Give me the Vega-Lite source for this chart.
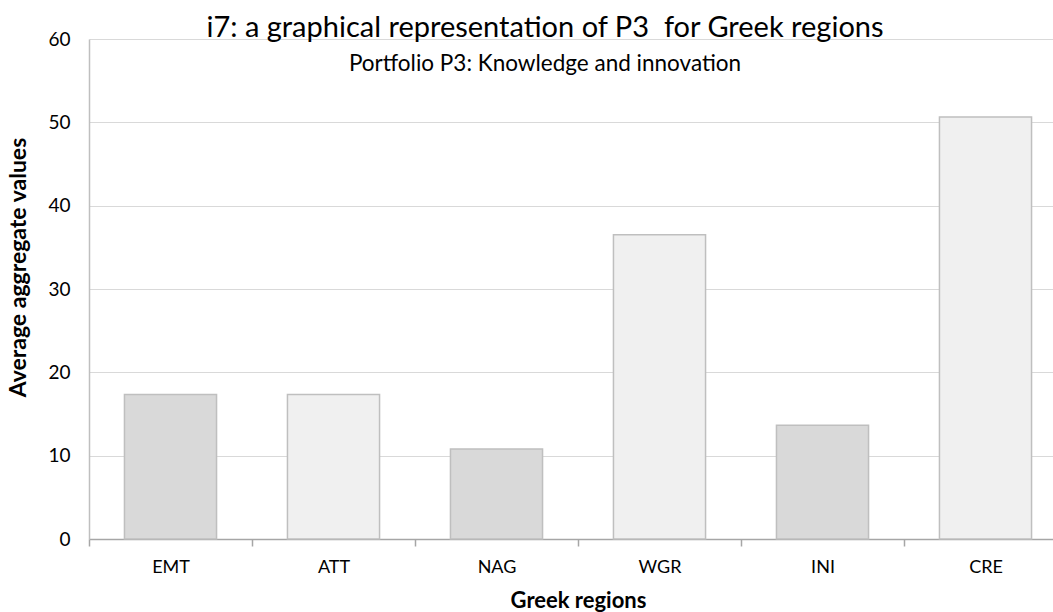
{
  "$schema": "https://vega.github.io/schema/vega-lite/v6.json",
  "autosize": {"type": "none"},
  "padding": {"left": 89, "top": 39, "right": 0, "bottom": 73},
  "width": 964,
  "height": 500,
  "background": "white",
  "config": {
    "font": "Lato",
    "view": {"stroke": null},
    "axis": {"labelFont": "Lato", "titleFont": "Lato", "labelColor": "#000000", "titleColor": "#000000"}
  },
  "title": {
    "text": "i7: a graphical representation of P3\u00a0 for Greek regions",
    "subtitle": "Portfolio P3: Knowledge and innovation",
    "anchor": "middle",
    "frame": "group",
    "fontSize": 29,
    "fontWeight": "normal",
    "font": "Lato",
    "color": "#000000",
    "subtitleFont": "Lato",
    "subtitleFontSize": 22.5,
    "subtitleColor": "#000000",
    "subtitlePadding": 10,
    "offset": -45,
    "dx": -26
  },
  "data": {
    "values": [
      {"region": "EMT", "value": 17.35},
      {"region": "ATT", "value": 17.35},
      {"region": "NAG", "value": 10.8},
      {"region": "WGR", "value": 36.5},
      {"region": "INI", "value": 13.65},
      {"region": "CRE", "value": 50.65}
    ]
  },
  "mark": {"type": "bar", "stroke": "#bfbfbf", "strokeWidth": 1.5, "width": {"band": 0.565}},
  "encoding": {
    "x": {
      "field": "region",
      "type": "nominal",
      "sort": null,
      "scale": {"paddingInner": 0, "paddingOuter": 0, "range": [0, 978]},
      "axis": {
        "title": "Greek regions",
        "titleFontSize": 22,
        "titleFontWeight": "bold",
        "titlePadding": 14,
        "labelAngle": 0,
        "labelFontSize": 18,
        "labelPadding": 12,
        "domainColor": "#a6a6a6",
        "domainWidth": 1.5,
        "tickColor": "#a6a6a6",
        "tickWidth": 1.5,
        "tickSize": 7,
        "tickBand": "extent",
        "grid": false
      }
    },
    "y": {
      "field": "value",
      "type": "quantitative",
      "scale": {"domain": [0, 60]},
      "axis": {
        "title": "Average aggregate values",
        "titleFontSize": 23,
        "titleFontWeight": "bold",
        "titlePadding": 17,
        "titleY": 228,
        "values": [0, 10, 20, 30, 40, 50, 60],
        "labelFontSize": 19,
        "labelPadding": 19,
        "ticks": false,
        "domainColor": "#bfbfbf",
        "domainWidth": 1.5,
        "grid": true,
        "gridColor": "#d9d9d9",
        "gridWidth": 1
      }
    },
    "fill": {
      "condition": {"test": "indexof(['EMT','NAG','INI'], datum.region) >= 0", "value": "#d9d9d9"},
      "value": "#f0f0f0"
    }
  }
}
